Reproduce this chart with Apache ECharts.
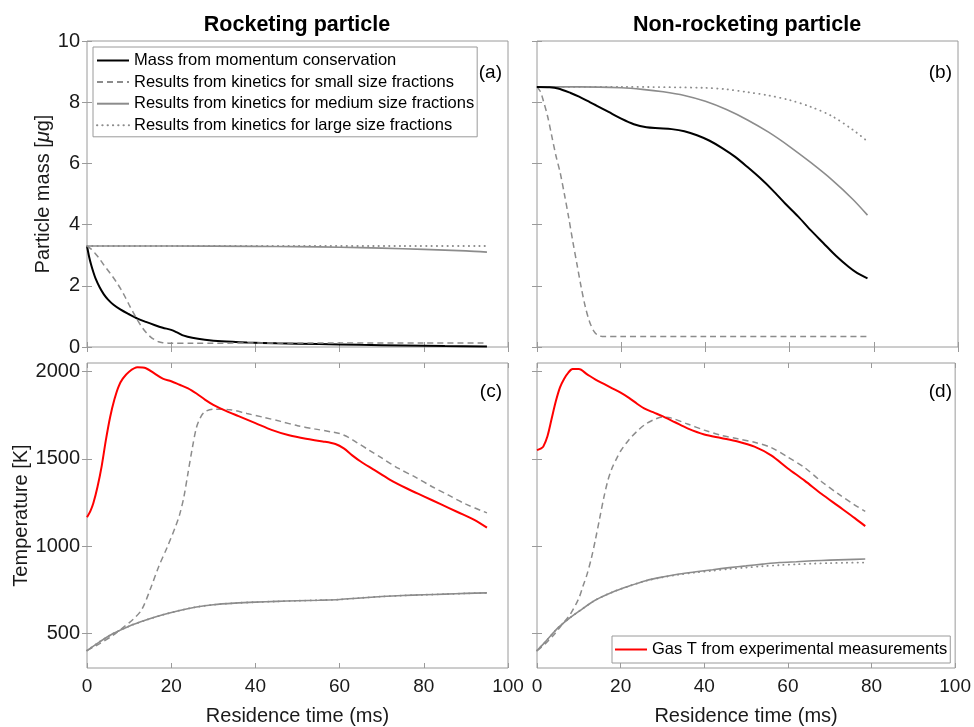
<!DOCTYPE html>
<html>
<head>
<meta charset="utf-8">
<script src="https://cdn.jsdelivr.net/npm/echarts@6/dist/echarts.min.js"></script>
<style>
html,body{margin:0;padding:0;background:#fff;}
#chart{width:974px;height:727px;}
</style>
</head>
<body>
<div id="chart"></div>
<script>
// ---------- Data ----------
// Panel (a): rocketing particle, mass [ug]
const aMomT = [0, 0.5, 1, 1.5, 2, 3, 4, 5, 6.3, 8, 10, 12, 14, 16, 18, 20, 21.5, 23, 25, 28, 32, 38, 45, 55, 65, 75, 85, 95];
const aMomM = [3.3, 2.95, 2.68, 2.45, 2.25, 1.95, 1.72, 1.55, 1.38, 1.22, 1.07, 0.93, 0.82, 0.72, 0.63, 0.56, 0.47, 0.37, 0.3, 0.24, 0.19, 0.15, 0.12, 0.1, 0.07, 0.05, 0.03, 0.02];
const aSmallT = [0, 1, 2, 3, 4, 5, 6, 7, 8, 9, 10, 11, 12, 13, 14, 15, 16, 17, 18, 19, 20, 25, 40, 60, 80, 95];
const aSmallM = [3.3, 3.2, 3.05, 2.88, 2.68, 2.5, 2.32, 2.12, 1.9, 1.65, 1.38, 1.12, 0.88, 0.66, 0.48, 0.34, 0.24, 0.17, 0.14, 0.13, 0.12, 0.12, 0.13, 0.13, 0.13, 0.13];
const aMedT = [0, 20, 40, 50, 60, 70, 80, 90, 95];
const aMedM = [3.3, 3.3, 3.29, 3.28, 3.26, 3.23, 3.19, 3.14, 3.1];
const aLargeT = [0, 25, 50, 75, 95];
const aLargeM = [3.3, 3.3, 3.3, 3.3, 3.3];

// Panel (b): non-rocketing particle, mass [ug]
const bMomT = [0, 3, 5, 8, 10, 12, 14, 17, 20, 23, 26, 29, 32, 35, 38, 41, 44, 47, 50, 53, 56, 59, 62, 65, 68, 71, 74, 76, 78.5];
const bMomM = [8.5, 8.49, 8.45, 8.3, 8.18, 8.04, 7.9, 7.68, 7.46, 7.28, 7.18, 7.15, 7.12, 7.05, 6.92, 6.74, 6.5, 6.22, 5.88, 5.52, 5.12, 4.68, 4.27, 3.82, 3.4, 2.98, 2.62, 2.42, 2.24];
const bSmallT = [0, 0.8, 1.5, 2.5, 3.5, 4.5, 5.5, 6.5, 7.5, 8.5, 9.5, 10.5, 11.5, 12.5, 13.5, 14.5, 16, 20, 40, 60, 78.5];
const bSmallM = [8.5, 8.35, 8.05, 7.55, 6.9, 6.25, 5.7, 5.0, 4.25, 3.45, 2.7, 1.95, 1.3, 0.82, 0.52, 0.38, 0.34, 0.34, 0.34, 0.34, 0.34];
const bMedT = [0, 10, 20, 25, 30, 35, 40, 45, 50, 55, 60, 65, 70, 75, 78.5];
const bMedM = [8.5, 8.5, 8.47, 8.42, 8.34, 8.22, 8.03, 7.76, 7.42, 7.02, 6.55, 6.03, 5.47, 4.83, 4.31];
const bLargeT = [0, 20, 40, 45, 50, 55, 60, 65, 70, 75, 78.5];
const bLargeM = [8.5, 8.5, 8.47, 8.42, 8.33, 8.22, 8.07, 7.85, 7.55, 7.1, 6.72];

// Panel (c): rocketing particle, temperature [K]
const cGasT = [0, 0.8, 1.5, 2.5, 3.5, 4.5, 5.5, 6.5, 7.5, 8.5, 10, 12, 14, 16, 18, 20, 22, 24, 26, 28, 30, 33, 36, 40, 44, 48, 52, 56, 59, 61, 63, 65, 68, 72, 76, 80, 84, 88, 92, 95];
const cGasK = [1165, 1200, 1245, 1340, 1460, 1610, 1740, 1840, 1915, 1960, 2000, 2025, 2020, 1990, 1960, 1945, 1925, 1905, 1875, 1840, 1810, 1775, 1745, 1705, 1665, 1635, 1615, 1600, 1585, 1560, 1520, 1485, 1440, 1380, 1330, 1285, 1240, 1195, 1150, 1105];
const cSmallT = [0, 3, 6, 9, 11, 13, 15, 17, 19, 21, 22, 23, 24, 25, 26, 27, 28, 30, 34, 38, 42, 46, 50, 54, 58, 60, 62, 64, 67, 70, 74, 78, 82, 86, 90, 95];
const cSmallK = [400, 440, 485, 540, 580, 635, 750, 880, 990, 1110, 1180, 1280, 1420, 1560, 1680, 1740, 1770, 1785, 1782, 1760, 1738, 1715, 1690, 1672, 1655, 1645, 1625, 1595, 1550, 1505, 1445, 1395, 1340, 1290, 1240, 1190];
const cMedT = [0, 3, 6, 10, 14, 18, 22, 26, 30, 35, 40, 45, 50, 55, 60, 65, 70, 75, 80, 85, 90, 95];
const cMedK = [400, 450, 495, 540, 575, 605, 630, 650, 663, 672, 678, 682, 686, 689, 693, 702, 710, 716, 720, 724, 728, 731];
const cLargeT = [0, 3, 6, 10, 14, 18, 22, 26, 30, 35, 40, 45, 50, 55, 60, 65, 70, 75, 80, 85, 90, 95];
const cLargeK = [400, 450, 495, 540, 575, 605, 630, 650, 663, 672, 678, 682, 686, 689, 693, 702, 710, 716, 720, 724, 728, 731];

// Panel (d): non-rocketing particle, temperature [K]
const dGasT = [0, 1, 1.5, 2.5, 3.5, 4.5, 5.5, 6.5, 7.5, 8.5, 10, 12, 14, 16, 18, 20, 22, 24, 26, 28, 30, 33, 36, 40, 44, 48, 52, 56, 60, 64, 68, 72, 76, 78.5];
const dGasK = [1550, 1560, 1570, 1630, 1730, 1830, 1910, 1960, 1995, 2015, 2015, 1985, 1955, 1930, 1905, 1880, 1850, 1815, 1785, 1765, 1745, 1710, 1675, 1640, 1620, 1600, 1570, 1520, 1445, 1375, 1300, 1230, 1160, 1114];
const dSmallT = [0, 2, 4, 6, 8, 10, 11, 12, 13, 14, 15, 16, 17, 18, 19, 20, 22, 24, 26, 28, 30, 32, 36, 40, 44, 48, 52, 56, 60, 64, 68, 72, 76, 78.5];
const dSmallK = [400, 440, 490, 550, 610, 700, 770, 840, 930, 1040, 1160, 1280, 1380, 1450, 1500, 1545, 1610, 1660, 1700, 1725, 1740, 1735, 1700, 1665, 1635, 1615, 1595, 1565, 1510, 1450, 1370, 1300, 1235, 1199];
const dMedT = [0, 2, 5, 8, 10, 14, 18, 22, 26, 30, 34, 38, 42, 46, 50, 54, 58, 62, 66, 70, 74, 78.5];
const dMedK = [400, 450, 530, 590, 625, 690, 735, 770, 801, 822, 839, 852, 864, 876, 886, 896, 905, 910, 915, 919, 922, 925];
const dLargeT = [0, 2, 5, 8, 10, 14, 18, 22, 26, 30, 34, 38, 42, 46, 50, 54, 58, 62, 66, 70, 74, 78.5];
const dLargeK = [400, 450, 530, 590, 625, 690, 735, 770, 800, 820, 836, 848, 858, 868, 876, 884, 890, 895, 899, 902, 904, 905];

// Axis ticks / labels
const xTicks = [0, 20, 40, 60, 80, 100];
const massTicks = [0, 2, 4, 6, 8, 10];
const tempTicks = [500, 1000, 1500, 2000];

// Names
const nMom = 'Mass from momentum conservation';
const nSmall = 'Results from kinetics for small size fractions';
const nMed = 'Results from kinetics for medium size fractions';
const nLarge = 'Results from kinetics for large size fractions';
const nGas = 'Gas T from experimental measurements';
const panelTitles = ['Rocketing particle', 'Non-rocketing particle'];
const panelTags = ['(a)', '(b)', '(c)', '(d)'];

// ---------- Chart ----------
const FONT = "'Liberation Sans', Arial, Helvetica, sans-serif";
const FRAME = '#9a9a9a';
const GRAY = '#8c8c8c';
const TXT = '#1a1a1a';

function zip(xs, ys) { return xs.map((x, i) => [x, ys[i]]); }
function plain(v) { return String(v); }

const grids = [
  {left: 87, top: 41, width: 421, height: 306},
  {left: 537, top: 41, width: 421, height: 306},
  {left: 87, top: 363, width: 421, height: 308},
  {left: 537, top: 363, width: 421, height: 308}
].map(g => Object.assign({show: true, borderColor: FRAME, borderWidth: 1, backgroundColor: 'transparent'}, g));

const tickStyle = {show: true, inside: true, length: 5, lineStyle: {color: FRAME, width: 1}};

const xAxes = [];
const yAxes = [];
for (let i = 0; i < 4; i++) {
  const bottomRow = i >= 2;
  xAxes.push({
    type: 'value', gridIndex: i, position: 'bottom', min: 0, max: 100, interval: 20,
    axisLine: {show: false}, splitLine: {show: false},
    axisTick: Object.assign({customValues: xTicks}, tickStyle),
    axisLabel: {show: bottomRow, customValues: xTicks, formatter: plain, fontSize: 19, color: TXT, fontFamily: FONT, margin: 9, showMinLabel: true, showMaxLabel: true},
    name: bottomRow ? 'Residence time (ms)' : '', nameLocation: 'middle', nameGap: 38,
    nameTextStyle: {fontSize: 20, color: TXT, fontFamily: FONT}
  });
}
for (let i = 0; i < 4; i++) {
  xAxes.push({
    type: 'value', gridIndex: i, position: 'top', min: 0, max: 100, interval: 20,
    axisLine: {show: false}, splitLine: {show: false},
    axisTick: Object.assign({customValues: xTicks}, tickStyle),
    axisLabel: {show: false}
  });
}
for (let i = 0; i < 4; i++) {
  const isMass = i < 2;
  const leftCol = (i % 2) === 0;
  const yBase = {
    type: 'value', gridIndex: i, position: 'left',
    min: isMass ? 0 : 300, max: isMass ? 10 : 2050,
    axisLine: {show: false}, splitLine: {show: false},
    axisTick: Object.assign({customValues: isMass ? massTicks : tempTicks}, tickStyle),
    axisLabel: {show: leftCol, customValues: isMass ? massTicks : tempTicks, formatter: plain, fontSize: 20, color: TXT, fontFamily: FONT, margin: 7, showMinLabel: true, showMaxLabel: true}
  };
  if (leftCol) {
    if (isMass) {
      yBase.name = '{n|Particle mass [}{i|\u03bc}{n|g]}';
      yBase.nameGap = 31;
    } else {
      yBase.name = 'Temperature [K]';
      yBase.nameGap = 51;
    }
    yBase.nameLocation = 'middle';
    yBase.nameRotate = 90;
    yBase.nameTextStyle = {fontSize: 20, color: TXT, fontFamily: FONT,
      rich: {n: {fontSize: 20, color: TXT, fontFamily: FONT}, i: {fontSize: 20, color: TXT, fontFamily: FONT, fontStyle: 'italic'}}};
  }
  yAxes.push(yBase);
}
for (let i = 0; i < 4; i++) {
  const isMass = i < 2;
  yAxes.push({
    type: 'value', gridIndex: i, position: 'right',
    min: isMass ? 0 : 300, max: isMass ? 10 : 2050,
    axisLine: {show: false}, splitLine: {show: false},
    axisTick: Object.assign({customValues: isMass ? massTicks : tempTicks}, tickStyle),
    axisLabel: {show: false}
  });
}

function ser(name, idx, xs, ys, style) {
  return {
    name: name, type: 'line', xAxisIndex: idx, yAxisIndex: idx,
    data: zip(xs, ys), showSymbol: false, symbol: 'none', smooth: 0.3,
    animation: false, silent: true,
    lineStyle: style, itemStyle: {color: style.color}
  };
}
const stMom = {color: '#000000', width: 2, type: 'solid'};
const stSmall = {color: GRAY, width: 1.5, type: [6, 4]};
const stMed = {color: GRAY, width: 1.6, type: 'solid'};
const stLarge = {color: GRAY, width: 1.8, type: [0.3, 5], cap: 'round'};
const stGas = {color: '#ff0000', width: 2, type: 'solid'};

const series = [
  // (a)
  ser(nMom, 0, aMomT, aMomM, stMom),
  ser(nSmall, 0, aSmallT, aSmallM, stSmall),
  ser(nMed, 0, aMedT, aMedM, stMed),
  ser(nLarge, 0, aLargeT, aLargeM, stLarge),
  // (b)
  ser(nSmall, 1, bSmallT, bSmallM, stSmall),
  ser(nMed, 1, bMedT, bMedM, stMed),
  ser(nLarge, 1, bLargeT, bLargeM, stLarge),
  ser(nMom, 1, bMomT, bMomM, stMom),
  // (c)
  ser(nSmall, 2, cSmallT, cSmallK, stSmall),
  ser(nLarge, 2, cLargeT, cLargeK, stLarge),
  ser(nMed, 2, cMedT, cMedK, stMed),
  ser(nGas, 2, cGasT, cGasK, stGas),
  // (d)
  ser(nSmall, 3, dSmallT, dSmallK, stSmall),
  ser(nLarge, 3, dLargeT, dLargeK, stLarge),
  ser(nMed, 3, dMedT, dMedK, stMed),
  ser(nGas, 3, dGasT, dGasK, stGas)
];

const graphics = [];
const titleX = [297, 747];
panelTitles.forEach((t, i) => {
  graphics.push({type: 'text', x: titleX[i], y: 25, silent: true,
    style: {text: t, fill: '#000', font: 'bold 21.5px ' + FONT, textAlign: 'center', textVerticalAlign: 'middle'}});
});
const tagPos = [[502, 73], [952, 73], [502, 392], [952, 392]];
panelTags.forEach((t, i) => {
  graphics.push({type: 'text', x: tagPos[i][0], y: tagPos[i][1], silent: true, z: 100,
    style: {text: t, fill: '#000', font: '19px ' + FONT, textAlign: 'right', textVerticalAlign: 'middle'}});
});

const legendCommon = {
  orient: 'vertical', itemWidth: 32, itemHeight: 14,
  backgroundColor: '#ffffff', borderColor: FRAME, borderWidth: 1, borderRadius: 0,
  itemStyle: {opacity: 0},
  textStyle: {fontSize: 16.5, color: '#000', fontFamily: FONT}, selectedMode: false, z: 50
};

const option = {
  animation: false,
  backgroundColor: '#ffffff',
  grid: grids,
  xAxis: xAxes,
  yAxis: yAxes,
  legend: [
    Object.assign({}, legendCommon, {
      data: [nMom, nSmall, nMed, nLarge], left: 93, top: 47,
      itemGap: 4.6, padding: [5, 3, 3, 3]
    }),
    Object.assign({}, legendCommon, {
      data: [nGas], left: 612, top: 636, padding: [5, 3, 5, 2]
    })
  ],
  graphic: graphics,
  series: series
};

const chart = echarts.init(document.getElementById('chart'), null, {renderer: 'canvas'});
chart.setOption(option);
</script>
</body>
</html>
